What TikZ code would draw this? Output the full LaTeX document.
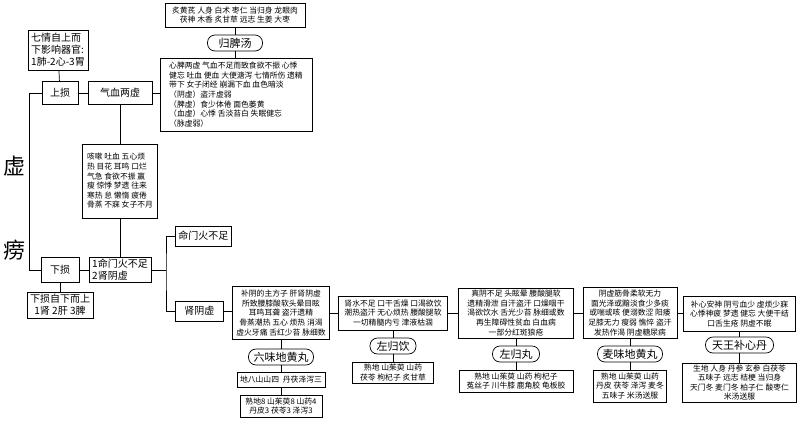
\documentclass[tikz,border=0pt]{standalone}
\usepackage{fontspec}
\setmainfont{Noto Sans CJK SC}
\usetikzlibrary{positioning, calc}
\tikzset{
  laodiagram/.style={
	x=1pt, y=-1pt, % one unit is one pixel of the sketch, y runs down
	line width=0.7pt, % thin connectors and frames
  },
  smallbox/.style={draw, rectangle, inner xsep=3pt, inner ysep=2pt, align=center, font=\fontsize{7.8}{9.6}\selectfont}, % boxes with symptoms and herbs
  bigbox/.style={draw, rectangle, inner xsep=3pt, inner ysep=2pt, align=center, font=\fontsize{10}{12}\selectfont}, % the tree nodes
  pillbox/.style={draw, rectangle, rounded corners=7.5pt, minimum height=16pt, inner sep=1pt, font=\fontsize{11}{12}\selectfont}, % names of the formulas
  bigchar/.style={font=\fontsize{22}{24}\selectfont}, % title letters
}
\begin{document}
\begin{tikzpicture}[laodiagram]
\useasboundingbox (0,0) rectangle (800,424);

% title on the left
\node[bigchar] (xu) at (14,166) {虚};
\node[bigchar] (lao) at (14,250) {痨};

% upper branch
\node[bigbox, align=left, minimum width=60, minimum height=40] (qiqing) at (58,50) {七情自上而\\下影响器官:\\1肺-2心-3胃};
\node[bigbox, minimum width=36, minimum height=23] (shangsun) at (60,93) {上损};
\node[bigbox, minimum width=64, minimum height=23] (qixue) at (120,93) {气血两虚};
\node[smallbox, minimum width=140, minimum height=24] (guipiyao) at (235,15) {炙黄芪 人身 白术 枣仁 当归身 龙眼肉\\茯神 木香 炙甘草 远志 生姜 大枣};
\node[pillbox, minimum width=55] (guipitang) at (235,43) {归脾汤};
\node[smallbox, align=left, minimum width=152, minimum height=73] (xinpi) at (236,94.5) {心脾两虚 气血不足而致食欲不振 心悸\\健忘 吐血 便血 大便溏泻 七情所伤 遗精\\带下 女子闭经 崩漏下血 血色暗淡\\（阴虚）盗汗虚弱\\（脾虚）食少体倦 面色萎黄\\（血虚）心悸 舌淡苔白 失眠健忘\\（脉虚弱）};
\node[smallbox, align=left, minimum width=75, minimum height=74] (kesou) at (120,181) {咳嗽 吐血 五心烦\\热 目花 耳鸣 口烂\\气急 食欲不振 羸\\瘦 惊悸 梦遗 往来\\寒热 怠 懒惰 疲倦\\骨蒸 不寐 女子不月};

% lower branch
\node[bigbox, align=left, minimum width=62, minimum height=25, inner ysep=1pt] (mingmen12) at (120,270) {1命门火不足\\2肾阴虚};
\node[bigbox, minimum width=38, minimum height=25] (xiasun) at (60,270) {下损};
\node[bigbox, minimum width=66, minimum height=26, inner ysep=1pt] (xiasunnote) at (60,305) {下损自下而上\\1肾 2肝 3脾};
\coordinate (fork) at (166,270);
\node[bigbox, anchor=west, minimum width=53, minimum height=20] (mingmen) at (175,236) {命门火不足};
\node[bigbox, anchor=west, minimum width=48, minimum height=20] (shenyin) at (175,311) {肾阴虚};

% chain of kidney yin boxes
\node[smallbox, minimum width=97, minimum height=53] (buyin) at (281,313) {补阴的主方子 肝肾阴虚\\所致腰膝酸软头晕目眩\\耳鸣耳聋 盗汗遗精\\骨蒸潮热 五心 烦热 消渴\\虚火牙痛 舌红少苔 脉细数};
\node[pillbox, minimum width=65] (liuwei) at (281,357) {六味地黄丸};
\node[smallbox, minimum width=88, minimum height=15, inner ysep=1pt] (diba) at (281,380) {地八山山四\enspace 丹茯泽泻三};
\node[smallbox, minimum width=82, minimum height=22, inner ysep=1pt] (liuweirx) at (281,406) {熟地8 山茱萸8 山药4\\丹皮3 茯苓3 泽泻3};

\node[smallbox, minimum width=109, minimum height=34] (shenshui) at (393,313) {肾水不足 口干舌燥 口渴欲饮\\潮热盗汗 无心烦热 腰酸腿软\\一切精髓内亏 津液枯涸};
\node[pillbox, minimum width=46] (zuoguiyin) at (393,346) {左归饮};
\node[smallbox, minimum width=81, minimum height=21, inner ysep=1pt] (zuoguiyinrx) at (393,372.5) {熟地 山茱萸 山药\\茯苓 枸杞子 炙甘草};

\node[smallbox, minimum width=115, minimum height=50] (zhenyin) at (516,313) {真阴不足 头眩晕 腰酸腿软\\遗精滑泄 自汗盗汗 口燥咽干\\渴欲饮水 舌光少苔 脉细或数\\再生障碍性贫血 白血病\\一部分红斑狼疮};
\node[pillbox, minimum width=47] (zuoguiwan) at (516,354) {左归丸};
\node[smallbox, minimum width=114, minimum height=22, inner ysep=1pt] (zuoguiwanrx) at (516,381) {熟地 山茱萸 山药 枸杞子\\菟丝子 川牛膝 鹿角胶 龟板胶};

\node[smallbox, minimum width=94, minimum height=51] (yinxu) at (630,313) {阴虚筋骨柔软无力\\面光泽或黯淡食少多痰\\或喘或咳 便溺数涩 阳痿\\足膝无力 瘦弱 憔悴 盗汗\\发热作渴 阴虚糖尿病};
\node[pillbox, minimum width=65] (maiwei) at (630,354) {麦味地黄丸};
\node[smallbox, minimum width=72, minimum height=32, inner ysep=1pt] (maiweirx) at (630,386) {熟地 山茱萸 山药\\丹皮 茯苓 泽泻 麦冬\\五味子 米汤送服};

\node[smallbox, minimum width=112, minimum height=35] (buxin) at (739.5,314) {补心安神 阴亏血少 虚烦少寐\\心悸神疲 梦遗 健忘 大便干结\\口舌生疮 阴虚不眠};
\node[pillbox, minimum width=68] (tianwang) at (739.5,345) {天王补心丹};
\node[smallbox, minimum width=114, minimum height=39, inner ysep=1pt] (tianwangrx) at (739.5,382.5) {生地 人身 丹参 玄参 白茯苓\\五味子 远志 桔梗 当归身\\天门冬 麦门冬 柏子仁 酸枣仁\\米汤送服};

% connectors
\draw (qiqing) -- (shangsun);
\draw (shangsun) -- (qixue);
\draw (shangsun.west) -- ++(-12,0) |- (xiasun.west);
\draw (qixue.east) -- (qixue.east -| xinpi.west);
\draw (guipiyao) -- (guipitang);
\draw (guipitang) -- (guipitang |- xinpi.north);
\draw (qixue.south) -- (qixue.south |- kesou.north);
\draw (kesou.south) -- (kesou.south |- mingmen12.north);
\draw (xiasun) -- (mingmen12);
\draw (xiasun) -- (xiasunnote);
\draw (mingmen12.east) -- (fork);
\draw (mingmen.west) -| (fork) |- (shenyin.west);
\draw (shenyin.east) -- (shenyin.east -| buyin.west);
\draw (buyin) -- (shenshui);
\draw (shenshui) -- (zhenyin);
\draw (zhenyin) -- (yinxu);
\draw (yinxu) -- (buxin);
\draw (buyin) -- (liuwei) -- (diba) -- (liuweirx);
\draw (shenshui) -- (zuoguiyin) -- (zuoguiyinrx);
\draw (zhenyin) -- (zuoguiwan) -- (zuoguiwanrx);
\draw (yinxu) -- (maiwei) -- (maiweirx);
\draw (buxin) -- (tianwang) -- (tianwangrx);
\end{tikzpicture}
\end{document}
